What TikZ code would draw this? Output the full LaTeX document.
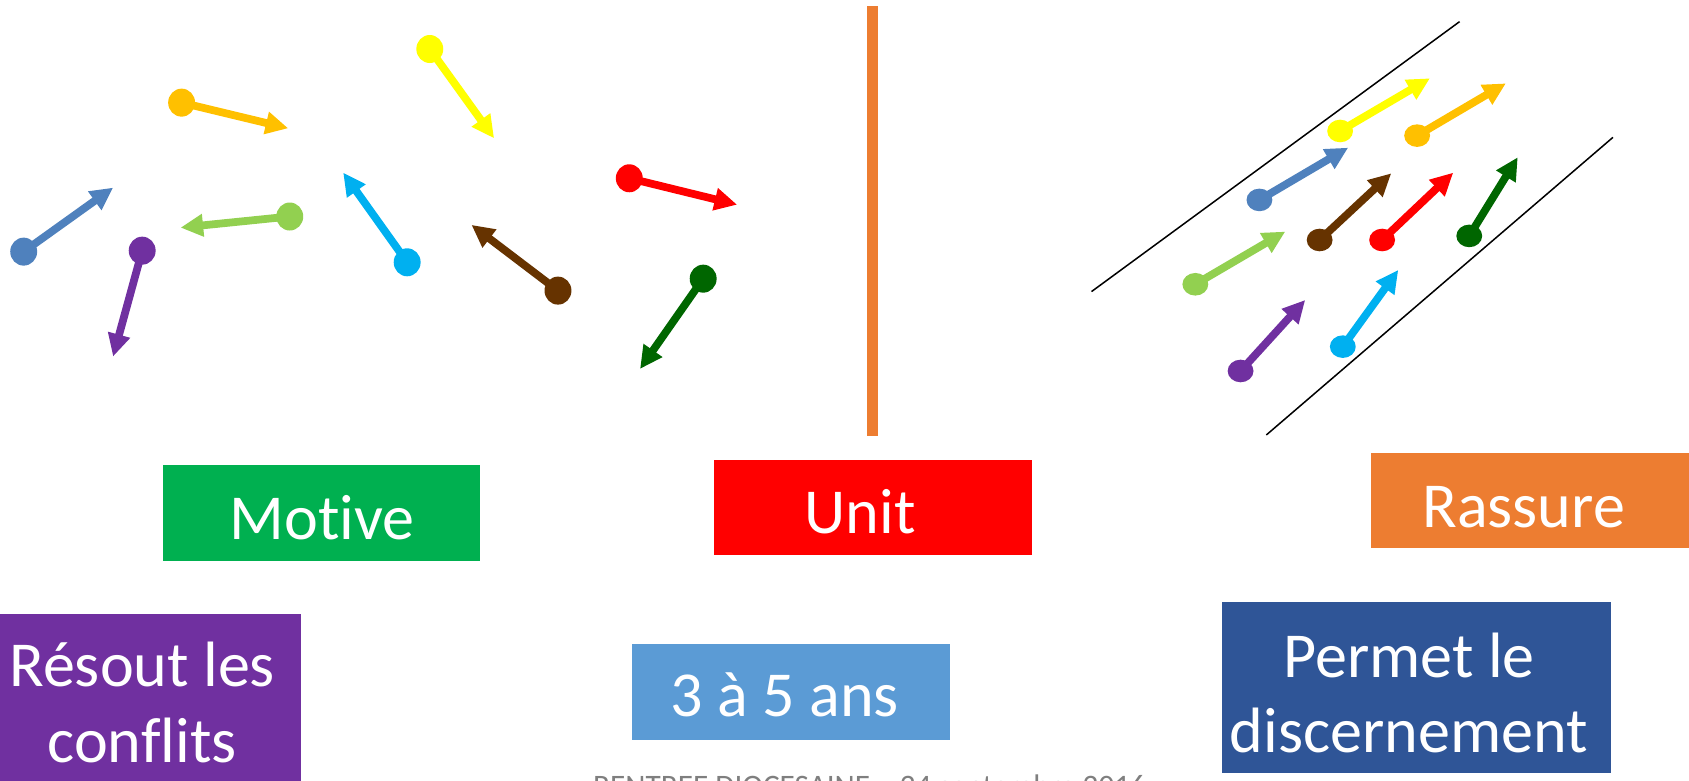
\documentclass[tikz,border=0pt]{standalone}
\usepackage{fontspec}
\setmainfont{Carlito}[Ligatures=NoCommon]
\usetikzlibrary{arrows.meta,shapes.geometric}
\definecolor{cblue}{HTML}{4F81BD}
\definecolor{cgold}{HTML}{FFC000}
\definecolor{cyellow}{HTML}{FFFF00}
\definecolor{clgreen}{HTML}{92D050}
\definecolor{ccyan}{HTML}{00B0F0}
\definecolor{cpurple}{HTML}{7030A0}
\definecolor{cbrown}{HTML}{663300}
\definecolor{cred}{HTML}{FF0000}
\definecolor{cdgreen}{HTML}{006600}
\definecolor{bgreen}{HTML}{00B050}
\definecolor{bred}{HTML}{FF0000}
\definecolor{borange}{HTML}{ED7D31}
\definecolor{bpurple}{HTML}{7030A0}
\definecolor{blight}{HTML}{5B9BD5}
\definecolor{bdark}{HTML}{2F5597}
\definecolor{cgray}{HTML}{7F7F7F}
\begin{document}
\begin{tikzpicture}[x=1pt,y=-1pt,
  dotL/.style={ellipse, minimum width=25pt, minimum height=26pt, inner sep=0pt, fill=#1, draw=none},
  dotR/.style={ellipse, minimum width=24pt, minimum height=21pt, inner sep=0pt, fill=#1, draw=none},
  vec/.style={draw=#1, line width=7.2pt, shorten <=-3pt, -{Triangle[length=21pt,width=20pt]}},
  box/.style={rectangle, inner sep=0pt, draw=none, fill=#1},
  lbl/.style={font=\fontsize{59.5}{70.5}\selectfont, text=white, inner sep=0pt, anchor=base, align=center},
  guide/.style={draw=black, line width=1.4pt}
]
\useasboundingbox (0,0) rectangle (1568,725);
\clip (0,0) rectangle (1568,725);

% ---------- left group: scattered arrows ----------
\node[dotL=cblue] (l1) at (22,233.6) {};      \coordinate (l1t) at (105,174.2);
\node[dotL=cgold] (l2) at (168.6,95.3) {};     \coordinate (l2t) at (267.6,119.1);
\node[dotL=cyellow] (l3) at (399,45.5) {};     \coordinate (l3t) at (458.7,128.4);
\node[dotL=clgreen] (l4) at (269,201) {};      \coordinate (l4t) at (167.6,211.3);
\node[dotL=ccyan] (l5) at (378,243.5) {};      \coordinate (l5t) at (318.6,160.3);
\node[dotL=cpurple] (l6) at (132,232.7) {};    \coordinate (l6t) at (105,331);
\node[dotL=cbrown] (l7) at (518,269.8) {};     \coordinate (l7t) at (437.7,208.8);
\node[dotL=cred] (l8) at (584.2,165.5) {};     \coordinate (l8t) at (684.3,190);
\node[dotL=cdgreen] (l9) at (652.8,258.7) {};  \coordinate (l9t) at (594.2,342.5);
\draw[vec=cblue] (l1) -- (l1t);
\draw[vec=cgold] (l2) -- (l2t);
\draw[vec=cyellow] (l3) -- (l3t);
\draw[vec=clgreen] (l4) -- (l4t);
\draw[vec=ccyan] (l5) -- (l5t);
\draw[vec=cpurple] (l6) -- (l6t);
\draw[vec=cbrown] (l7) -- (l7t);
\draw[vec=cred] (l8) -- (l8t);
\draw[vec=cdgreen] (l9) -- (l9t);

% ---------- separator ----------
\coordinate (sepTop) at (810,6);
\coordinate (sepBot) at (810,405);
\draw[borange, line width=10pt] (sepTop) -- (sepBot);

% ---------- right group: aligned arrows ----------
\coordinate (g1a) at (1013.3,270.7); \coordinate (g1b) at (1355,20.1);
\coordinate (g2a) at (1175.6,403.8); \coordinate (g2b) at (1497.4,127.5);
\draw[guide] (g1a) -- (g1b);
\draw[guide] (g2a) -- (g2b);

\node[dotR=cyellow] (r1) at (1244.1,121.6) {}; \coordinate (r1t) at (1327.5,72.7);
\node[dotR=cgold] (r2) at (1315.6,125.9) {};   \coordinate (r2t) at (1398,77.4);
\node[dotR=cblue] (r3) at (1169.2,185.6) {};   \coordinate (r3t) at (1251.6,137.1);
\node[dotR=clgreen] (r4) at (1109.7,263.9) {}; \coordinate (r4t) at (1193.2,215);
\node[dotR=cbrown] (r5) at (1225.1,222.8) {};  \coordinate (r5t) at (1291.6,160.9);
\node[dotR=cred] (r6) at (1283.1,222.8) {};    \coordinate (r6t) at (1349.1,160.3);
\node[dotR=cdgreen] (r7) at (1364,219) {};     \coordinate (r7t) at (1409,146);
\node[dotR=ccyan] (r8) at (1246.6,321.8) {};   \coordinate (r8t) at (1298.1,250.6);
\node[dotR=cpurple] (r9) at (1151.7,344.4) {}; \coordinate (r9t) at (1211.7,278.5);
\draw[vec=cyellow] (r1) -- (r1t);
\draw[vec=cgold] (r2) -- (r2t);
\draw[vec=cblue] (r3) -- (r3t);
\draw[vec=clgreen] (r4) -- (r4t);
\draw[vec=cbrown] (r5) -- (r5t);
\draw[vec=cred] (r6) -- (r6t);
\draw[vec=cdgreen] (r7) -- (r7t);
\draw[vec=ccyan] (r8) -- (r8t);
\draw[vec=cpurple] (r9) -- (r9t);

% ---------- label boxes ----------
\node[box=bgreen, minimum width=295pt, minimum height=89pt] (motiveBox) at (298.5,476.5) {};
\node[lbl] (motive) at (299,500.7) {Motive};

\node[box=bred, minimum width=295pt, minimum height=88pt] (unitBox) at (810.5,471) {};
\node[lbl] (unit) at (798.5,495.1) {Unit};

\node[box=borange, minimum width=300pt, minimum height=88pt] (rassureBox) at (1423,465) {};
\node[lbl] (rassure) at (1414.5,489.5) {Rassure};

\node[box=bpurple, minimum width=289pt, minimum height=175pt] (resoutBox) at (134.5,657.5) {};
\node[lbl] (resout) at (132,708) {Résout les\\conflits};

\node[box=blight, minimum width=295pt, minimum height=89pt] (agesBox) at (734.5,642.5) {};
\node[lbl] (ages) at (728.5,665.3) {3 à 5 ans};

\node[box=bdark, minimum width=362pt, minimum height=159pt] (permetBox) at (1315,638.5) {};
\node[lbl] (permet) at (1308,699) {Permet le\\discernement};

% ---------- footer ----------
\node[font=\fontsize{29}{35}\selectfont, text=cgray, inner sep=0pt, anchor=base west] (footer) at (550.5,739) {RENTREE DIOCESAINE – 24 septembre 2016};
\end{tikzpicture}
\end{document}
